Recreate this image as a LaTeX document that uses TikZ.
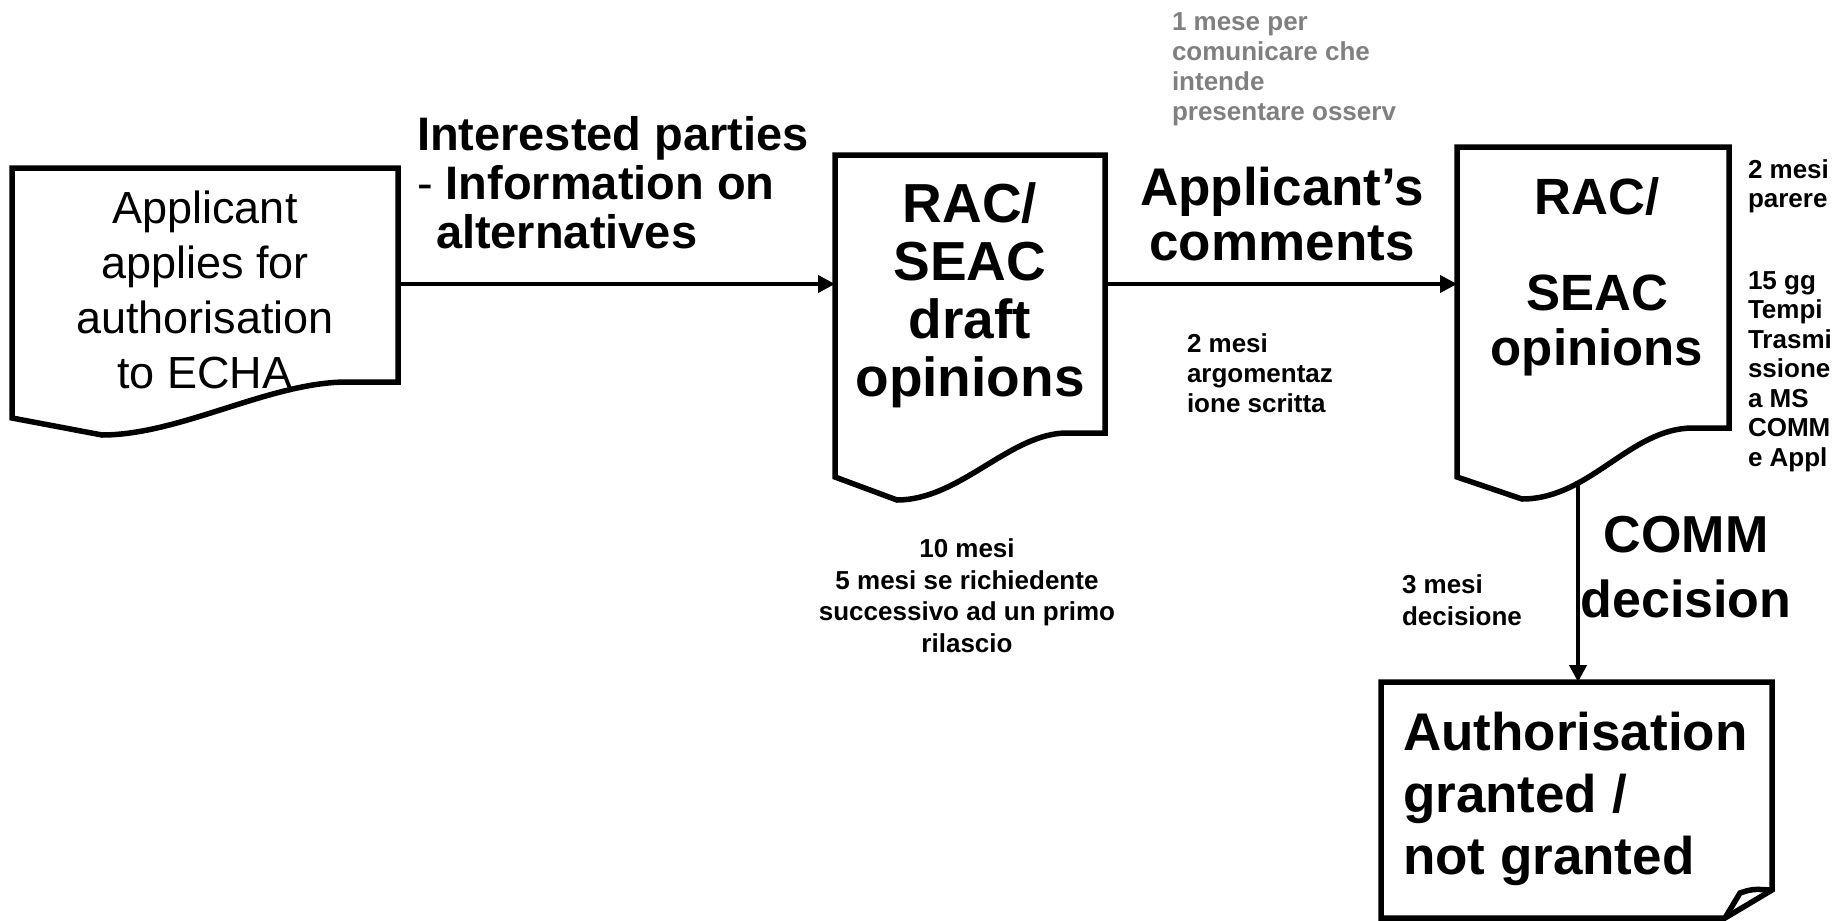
\documentclass[tikz,border=0pt]{standalone}
\usepackage{fontspec}
\setmainfont{Liberation Sans}
\usetikzlibrary{arrows.meta}
\definecolor{notegray}{RGB}{128,128,128}
\tikzset{
  doc/.style={draw=black, line width=5.5pt, line join=miter, fill=white},
  shapebox/.style={draw=none, inner sep=0pt, outer sep=0pt},
  flow/.style={draw=black, line width=4pt, -{Triangle[length=17pt,width=17pt]}},
  txt/.style={inner sep=0pt, outer sep=0pt},
  bigb/.style={txt, font=\bfseries\fontsize{55}{58}\selectfont, align=center, anchor=base},
  note/.style={txt, font=\bfseries\fontsize{26}{30}\selectfont},
}
\begin{document}
\begin{tikzpicture}[x=1pt,y=-1pt]
\useasboundingbox (0,0) rectangle (1837,921);

% document shapes
\draw[doc] (12,168) -- (398,168) -- (398,382) -- (347,382)
  .. controls (270,382) and (180,435) .. (102,435) -- (12,418) -- cycle;
\draw[doc] (835,155) -- (1105,155) -- (1105,433) -- (1067,433)
  .. controls (1010,433) and (960,500) .. (897,500) -- (835,477) -- cycle;
\draw[doc] (1457,147) -- (1729,147) -- (1729,428) -- (1693,428)
  .. controls (1630,428) and (1590,499) .. (1522,499) -- (1457,477) -- cycle;
\draw[doc] (1381,682) -- (1772,682) -- (1772,890) -- (1725,918) -- (1381,918) -- cycle;
\draw[doc, fill=none] (1725,918) -- (1740,893) .. controls (1752,889) .. (1772,890);

% anchor nodes of the shapes
\node[shapebox, minimum width=386pt, minimum height=232pt] (app) at (205,284) {};
\node[shapebox, minimum width=270pt, minimum height=258pt] (draft) at (970,284) {};
\node[shapebox, minimum width=272pt, minimum height=274pt] (op) at (1593,284) {};
\node[shapebox, minimum width=391pt, minimum height=236pt] (auth) at (1576.5,800) {};
\coordinate (opwave) at (1578,483);

% connectors
\draw[flow] (app.east) -- (draft.west);
\draw[flow] (draft.east) -- (op.west);
\draw[flow] (opwave) -- (opwave |- auth.north);

% texts in shapes (anchor=base is the baseline of the last line)
\node[txt, font=\fontsize{45}{55}\selectfont, align=center, anchor=base] (appT) at (205,388)
  {Applicant\\applies for\\authorisation\\to ECHA};
\node[bigb] (draftT) at (970,396) {RAC/\\SEAC\\draft\\opinions};
\node[txt, font=\bfseries\fontsize{51}{55}\selectfont, align=center, anchor=base] (opT) at (1597,365)
  {RAC/\\[41pt]SEAC\\opinions};
\node[txt, font=\bfseries\fontsize{53}{62}\selectfont, align=left, anchor=base west] (authT) at (1403,874)
  {Authorisation\\granted /\\not granted};

% connector labels
\node[txt, font=\bfseries\fontsize{47}{49}\selectfont, align=left, anchor=base west] (ipT) at (417,248)
  {Interested parties\\{\mdseries -} Information on\\\hspace*{19pt}alternatives};
\node[txt, font=\bfseries\fontsize{53}{55}\selectfont, align=center, anchor=base] (acT) at (1282,260)
  {Applicant’s\\comments};
\node[txt, font=\bfseries\fontsize{52}{65}\selectfont, align=center, anchor=base] (commT) at (1686,617)
  {COMM\\decision};

% notes
\node[note, align=left, anchor=base west, text=notegray] (n1) at (1172,120)
  {1 mese per\\comunicare che\\intende\\presentare osserv};
\node[note, align=left, anchor=base west] (n2) at (1187,412)
  {2 mesi\\argomentaz\\ione scritta};
\node[note, align=center, anchor=base, font=\bfseries\fontsize{26}{31.5}\selectfont] (n3) at (967,652)
  {10 mesi\\5 mesi se richiedente\\successivo ad un primo\\rilascio};
\node[note, align=left, anchor=base west, font=\bfseries\fontsize{26}{29.5}\selectfont] (n4) at (1748,466)
  {2 mesi\\parere\\[52pt]15 gg\\Tempi\\Trasmi\\ssione\\a MS\\COMM\\e Appl};
\node[note, align=left, anchor=base west, font=\bfseries\fontsize{26}{32}\selectfont] (n5) at (1402,625)
  {3 mesi\\decisione};
\end{tikzpicture}
\end{document}
